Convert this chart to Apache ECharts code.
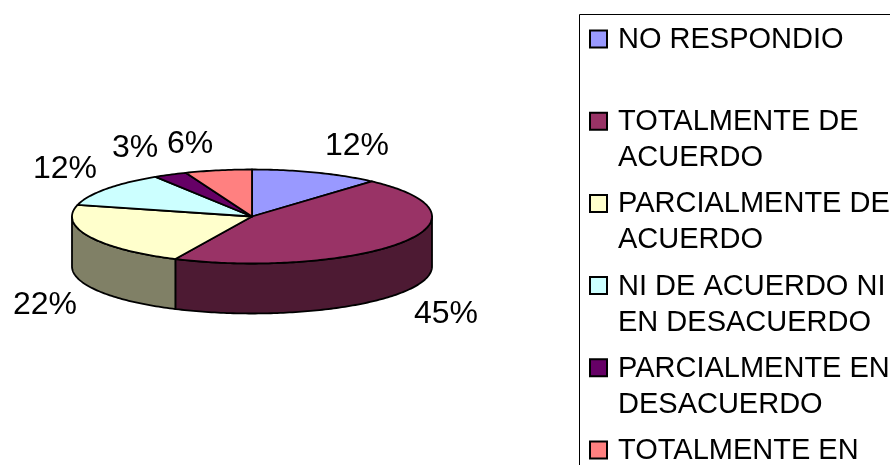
<!DOCTYPE html>
<html>
<head>
<meta charset="utf-8">
<style>html,body{margin:0;padding:0;background:#fff;overflow:hidden}</style>
<script src="https://cdn.jsdelivr.net/npm/echarts@6/dist/echarts.min.js"></script>
</head>
<body>
<div id="main" style="width:890px;height:465px"></div>
<script>
const categories = ['NO RESPONDIO', 'TOTALMENTE DE\nACUERDO', 'PARCIALMENTE DE\nACUERDO',
    'NI DE ACUERDO NI\nEN DESACUERDO', 'PARCIALMENTE EN\nDESACUERDO', 'TOTALMENTE EN\nDESACUERDO'];
// estimated from the slice edges, the labels show them rounded
const values = [11.6, 45.4, 22, 12, 3, 6];
const colors = ['#9999FF', '#993366', '#FFFFCC', '#CCFFFF', '#660066', '#FF8080'];
const wallColors = ['#4D4D80', '#4D1A33', '#808066', '#668080', '#330033', '#804040'];

// pie geometry, flattened by hand because the pie series has no 3D mode
const cx = 252, cy = 216.5, rx = 180, ry = 47, depth = 50;
const labelFont = '"Liberation Sans", Arial, sans-serif';
// centre of each percent label
const labelPos = [[357, 146], [446, 314], [45, 305], [65, 169], [135, 148], [190, 144]];

const total = values.reduce((a, b) => a + b, 0);
function startDeg(i) {
    return values.slice(0, i).reduce((a, b) => a + b, 0) / total * 360;
}
// degrees clockwise from 12 o'clock
function rim(deg, drop) {
    const r = deg * Math.PI / 180;
    return [cx + rx * Math.sin(r), cy - ry * Math.cos(r) + (drop || 0)];
}
function arc(a0, a1, drop) {
    const pts = [];
    for (let d = a0; d < a1; d += 1) pts.push(rim(d, drop));
    pts.push(rim(a1, drop));
    return pts;
}

function renderWall(params) {
    const i = params.dataIndex;
    // only the front half of the rim (90-270 deg) can be seen
    const a0 = Math.max(startDeg(i), 90), a1 = Math.min(startDeg(i + 1), 270);
    if (a1 <= a0) return null;
    return {
        type: 'polygon',
        shape: {points: arc(a0, a1, 0).concat(arc(a0, a1, depth).reverse())},
        style: {fill: wallColors[i], stroke: '#000', lineWidth: 1.8, lineJoin: 'round'}
    };
}
function renderTop(params) {
    const i = params.dataIndex;
    return {
        type: 'group',
        children: [{
            type: 'polygon',
            shape: {points: [[cx, cy]].concat(arc(startDeg(i), startDeg(i + 1), 0))},
            style: {fill: colors[i], stroke: '#000', lineWidth: 1.8, lineJoin: 'round'}
        }, {
            type: 'text',
            x: labelPos[i][0],
            y: labelPos[i][1],
            style: {text: Math.round(values[i]) + '%', font: '32px ' + labelFont, fill: '#000', align: 'center', verticalAlign: 'middle'}
        }]
    };
}

// legend is built by hand: the native one centres the swatch on two-line names
const legendEls = [{
    type: 'rect',
    shape: {x: 579.5, y: 14.5, width: 400, height: 500},
    style: {fill: '#fff', stroke: '#000', lineWidth: 1},
    z: 1
}];
categories.forEach((name, i) => {
    const y = 38 + 82.2 * i;
    legendEls.push({
        type: 'rect',
        shape: {x: 590, y: y - 7.5, width: 17, height: 17},
        style: {fill: colors[i], stroke: '#000', lineWidth: 2},
        z: 2
    });
    legendEls.push({
        type: 'text',
        x: 618,
        y: y - 16,
        style: {text: name, font: '29px ' + labelFont, lineHeight: 36, fill: '#000', align: 'left', verticalAlign: 'top'},
        z: 2
    });
});

const myChart = echarts.init(document.getElementById('main'));
myChart.setOption({
    animation: false,
    backgroundColor: '#fff',
    graphic: legendEls,
    series: [
        {type: 'custom', coordinateSystem: 'none', renderItem: renderWall, data: values, silent: true},
        {type: 'custom', coordinateSystem: 'none', renderItem: renderTop, data: values, silent: true}
    ]
});
</script>
</body>
</html>
